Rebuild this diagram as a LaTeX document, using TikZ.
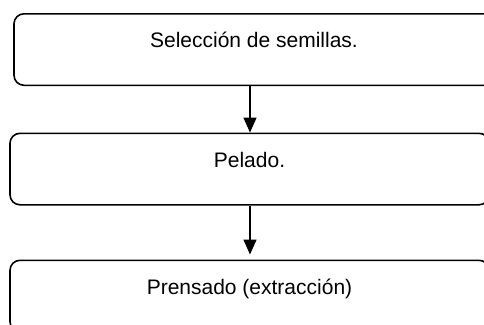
\documentclass[tikz,border=0pt]{standalone}
\usepackage{fontspec}
\setmainfont{Liberation Sans}
\usetikzlibrary{arrows.meta}
\begin{document}
\begin{tikzpicture}[x=1pt,y=-1pt,
  stepbox/.style={draw, line width=1.6pt, rounded corners=10pt, inner sep=0pt,
    text height=34pt, text depth=37.5pt, anchor=north,
    font=\fontsize{21}{25}\selectfont},
  flow/.style={line width=1.6pt, -{Triangle[length=15pt,width=13pt]}}]
\useasboundingbox (0,0) rectangle (484,324);
\begin{scope}
\clip (0,0) rectangle (484,324);
\node[stepbox, minimum width=480pt] (b1) at (254,13) {Selección de semillas.};
\node[stepbox, minimum width=479pt] (b2) at (249.5,132.5) {Pelado.};
\node[stepbox, minimum width=479pt] (b3) at (249.5,259.5) {Prensado (extracción)};
\end{scope}
\draw[flow] (b1.south -| 250,0) -- (b2.north -| 250,0);
\draw[flow, shorten >=5pt] (b2.south -| 250,0) -- (b3.north -| 250,0);
\end{tikzpicture}
\end{document}
